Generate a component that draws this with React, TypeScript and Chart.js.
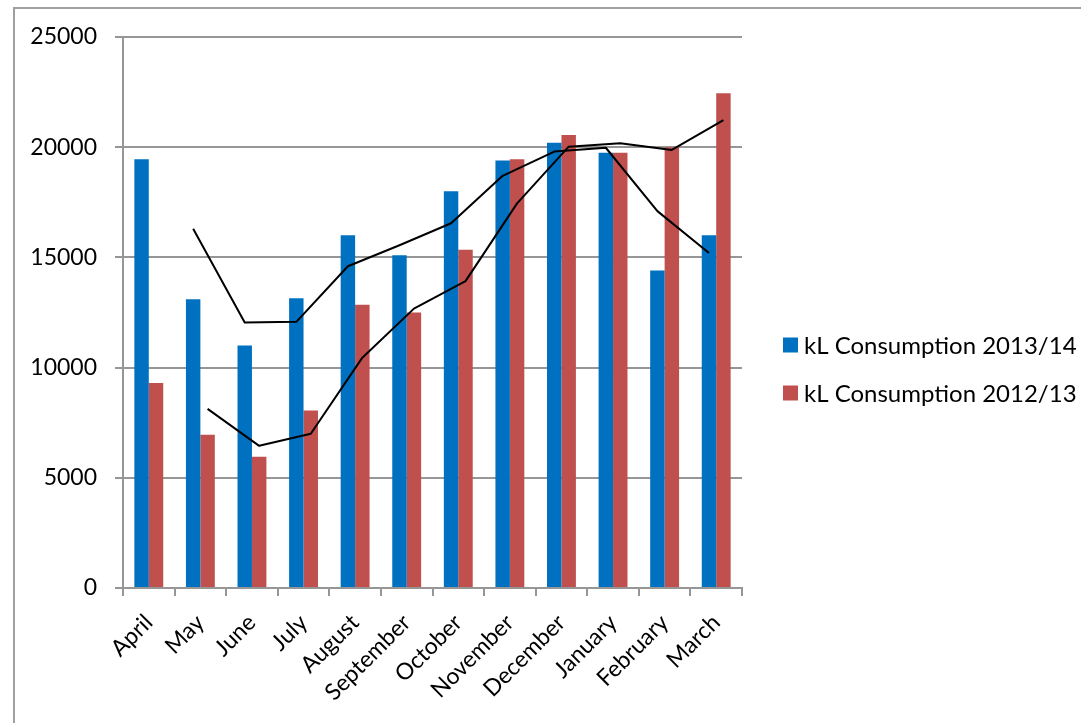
import React, { useEffect, useRef } from "react";
import { Chart, registerables } from "chart.js";

Chart.register(...registerables);

const categories = [
  "April", "May", "June", "July", "August", "September",
  "October", "November", "December", "January", "February", "March",
];
const consumption1314 = [19450, 13100, 11000, 13150, 16000, 15100, 18000, 19400, 20200, 19750, 14400, 16000];
const consumption1213 = [9300, 6950, 5950, 8050, 12850, 12500, 15350, 19450, 20550, 19750, 20000, 22450];
// 2-period moving-average trendlines
const trend1314 = [null, 16300, 12050, 12075, 14600, 15550, 16550, 18700, 19800, 19975, 17100, 15200];
const trend1213 = [null, 8125, 6450, 7000, 10450, 12675, 13925, 17450, 20025, 20175, 19875, 21225];
const yTicks = [0, 5000, 10000, 15000, 20000, 25000];

const seriesLabels = ["kL Consumption 2013/14", "kL Consumption 2012/13"];
const seriesColors = ["#0070C0", "#C0504D"];

const FONT = "Lato, 'Open Sans', sans-serif";
const GRID = "#969696";

const trendPlugin = {
  id: "trendlines",
  afterDatasetsDraw(chart: any) {
    const ctx = chart.ctx;
    const yScale = chart.scales.y;
    const trends = [trend1314, trend1213];
    trends.forEach((trend, di) => {
      const meta = chart.getDatasetMeta(di);
      ctx.save();
      ctx.beginPath();
      ctx.strokeStyle = "#000";
      ctx.lineWidth = 2;
      ctx.lineJoin = "round";
      let started = false;
      trend.forEach((v, i) => {
        if (v == null) return;
        const x = meta.data[i].x;
        const y = yScale.getPixelForValue(v);
        if (!started) {
          ctx.moveTo(x, y);
          started = true;
        } else ctx.lineTo(x, y);
      });
      ctx.stroke();
      ctx.restore();
    });
  },
};

const legendPlugin = {
  id: "customLegend",
  afterDraw(chart: any) {
    const ctx = chart.ctx;
    const left = chart.chartArea.right + 41;
    const rowCenters = [345, 393];
    ctx.save();
    ctx.font = `24px ${FONT}`;
    ctx.textBaseline = "middle";
    ctx.textAlign = "left";
    chart.data.datasets.forEach((ds: any, i: number) => {
      const cy = rowCenters[i];
      ctx.fillStyle = ds.backgroundColor;
      ctx.fillRect(left, cy - 7.5, 15, 15);
      ctx.fillStyle = "#000";
      ctx.fillText(ds.label, left + 21, cy + 1);
    });
    ctx.restore();
  },
};

export default function App() {
  const canvasRef = useRef<HTMLCanvasElement | null>(null);

  useEffect(() => {
    if (!canvasRef.current) return;
    const chart = new Chart(canvasRef.current, {
      type: "bar",
      data: {
        labels: categories,
        datasets: [
          {
            label: seriesLabels[0],
            data: consumption1314,
            backgroundColor: seriesColors[0],
            categoryPercentage: 0.56,
            barPercentage: 1,
          },
          {
            label: seriesLabels[1],
            data: consumption1213,
            backgroundColor: seriesColors[1],
            categoryPercentage: 0.56,
            barPercentage: 1,
          },
        ],
      },
      options: {
        animation: false,
        responsive: false,
        devicePixelRatio: 1,
        layout: { padding: { top: 37, right: 339, bottom: 0, left: 0 } },
        plugins: {
          legend: { display: false },
          tooltip: { enabled: false },
        },
        scales: {
          x: {
            grid: {
              display: true,
              offset: true,
              drawOnChartArea: false,
              drawTicks: true,
              tickLength: 8,
              color: GRID,
              lineWidth: 2,
            },
            border: { display: true, color: GRID, width: 2 },
            ticks: {
              autoSkip: false,
              minRotation: 45,
              maxRotation: 45,
              padding: 13,
              color: "#000",
              font: { family: FONT, size: 23 },
            },
            afterFit(scale: any) {
              scale.height = 135;
            },
          },
          y: {
            min: 0,
            max: 25000,
            afterBuildTicks(scale: any) {
              scale.ticks = yTicks.map((v) => ({ value: v }));
            },
            grid: {
              display: true,
              color: GRID,
              lineWidth: 2,
              tickLength: 8,
            },
            border: { display: true, color: GRID, width: 2 },
            ticks: {
              padding: 18,
              color: "#000",
              font: { family: FONT, size: 23 },
              callback: (v: any) => String(v),
            },
            afterFit(scale: any) {
              scale.width = 123;
            },
          },
        },
      },
      plugins: [trendPlugin, legendPlugin],
    });
    return () => chart.destroy();
  }, []);

  return (
    <div style={{ position: "fixed", left: 0, top: 0, width: 1081, height: 723, background: "#fff", overflow: "hidden" }}>
      <div
        style={{
          position: "absolute",
          left: 13,
          top: 7,
          width: 1100,
          height: 800,
          border: "2px solid #a0a0a0",
          boxSizing: "border-box",
        }}
      />
      <canvas ref={canvasRef} width={1081} height={723} style={{ position: "absolute", left: 0, top: 0 }} />
    </div>
  );
}
